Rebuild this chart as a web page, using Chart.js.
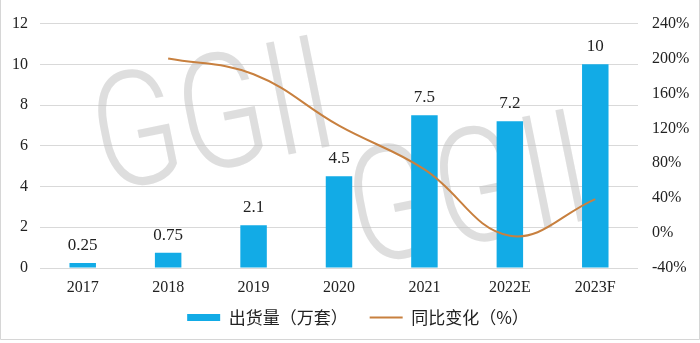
<!DOCTYPE html>
<html>
<head>
<meta charset="utf-8">
<script src="https://cdn.jsdelivr.net/npm/chart.js@4"></script>
<style>
  html, body { margin: 0; padding: 0; background: #fff; }
  #wrap { width: 700px; height: 343px; position: relative; }
</style>
</head>
<body>
<div id="wrap"><canvas id="shipChart" width="700" height="343"></canvas></div>
<script>
// Shipment data (10k sets) and year-on-year change (%)
const years = ['2017', '2018', '2019', '2020', '2021', '2022E', '2023F'];
const shipments = [0.25, 0.75, 2.1, 4.5, 7.5, 7.2, 10];
const yoyChange = [null, 200, 182, 123, 73, -3, 39];
const leftTicks = [0, 2, 4, 6, 8, 10, 12];
const rightTicks = [-40, 0, 40, 80, 120, 160, 200, 240];

const barColor = '#12abe6';
const lineColor = '#c8803f';
const serif = '"Liberation Serif", "DejaVu Serif", serif';
const cjk = '"Noto Sans CJK SC", "Noto Sans", sans-serif';

// faint GGII watermark behind the bars
const watermark = {
  id: 'watermark',
  beforeDatasetsDraw(chart) {
    const ctx = chart.ctx;
    const spots = [[104, 192], [360, 266]];
    ctx.save();
    ctx.fillStyle = 'rgba(195,195,195,0.55)';
    ctx.font = '300 160px Roboto';
    ctx.textBaseline = 'alphabetic';
    spots.forEach(([x, y]) => {
      ctx.save();
      ctx.translate(x, y);
      ctx.rotate(-0.2);
      ctx.scale(0.8, 1);
      ctx.fillText('GGII', 0, 0);
      ctx.restore();
    });
    ctx.restore();
  }
};

// value labels above each bar
const barLabels = {
  id: 'barLabels',
  afterDatasetsDraw(chart) {
    const ctx = chart.ctx;
    const meta = chart.getDatasetMeta(0);
    ctx.save();
    ctx.font = '17px ' + serif;
    ctx.fillStyle = '#222';
    ctx.textAlign = 'center';
    ctx.textBaseline = 'bottom';
    meta.data.forEach((bar, i) => {
      ctx.fillText(String(shipments[i]), bar.x, bar.y - 9);
    });
    ctx.restore();
  }
};

// nudge the legend: centred with a trailing gap, and sits a bit high
const legendShift = {
  id: 'legendShift',
  afterLayout(chart) {
    const lg = chart.legend;
    lg.left += 8;
    lg.right += 8;
    lg.top -= 5;
    lg.bottom -= 5;
  }
};

// thin frame on the outer edge
const frame = {
  id: 'frame',
  afterDraw(chart) {
    const ctx = chart.ctx;
    ctx.save();
    ctx.strokeStyle = '#d6d6d6';
    ctx.lineWidth = 1;
    ctx.beginPath();
    ctx.moveTo(0.5, 0);
    ctx.lineTo(0.5, 339.5);
    ctx.lineTo(699.5, 339.5);
    ctx.lineTo(699.5, 0);
    ctx.stroke();
    ctx.restore();
  }
};

new Chart(document.getElementById('shipChart'), {
  type: 'bar',
  data: {
    labels: years,
    datasets: [
      {
        type: 'bar',
        label: '出货量（万套）',
        data: shipments,
        backgroundColor: barColor,
        borderWidth: 0,
        barPercentage: 0.31,
        categoryPercentage: 1,
        yAxisID: 'y',
        order: 1
      },
      {
        type: 'line',
        label: '同比变化（%）',
        data: yoyChange,
        borderColor: lineColor,
        backgroundColor: lineColor,
        borderWidth: 2,
        pointRadius: 0,
        tension: 0.4,
        fill: false,
        yAxisID: 'y1',
        order: 0
      }
    ]
  },
  options: {
    responsive: false,
    animation: false,
    layout: { padding: { top: 16, bottom: 2, left: 0, right: 0 } },
    plugins: {
      tooltip: { enabled: false },
      legend: {
        position: 'bottom',
        maxHeight: 49,
        labels: {
          usePointStyle: true,
          pointStyleWidth: 33,
          boxHeight: 7,
          padding: 22,
          color: '#222',
          font: { family: cjk, size: 17 },
          generateLabels(chart) {
            return chart.data.datasets.map((ds, i) => ({
              text: ds.label,
              datasetIndex: i,
              fillStyle: ds.type === 'bar' ? barColor : lineColor,
              strokeStyle: ds.type === 'bar' ? barColor : lineColor,
              lineWidth: ds.type === 'bar' ? 0 : 2,
              pointStyle: ds.type === 'bar' ? 'rect' : 'line',
              fontColor: '#222',
              hidden: false
            }));
          }
        }
      }
    },
    scales: {
      x: {
        grid: { display: false, drawTicks: false },
        border: { display: false },
        ticks: { color: '#222', padding: 10, font: { family: serif, size: 16 } },
        afterFit(scale) { scale.height = 24; }
      },
      y: {
        position: 'left',
        min: 0,
        max: 12,
        afterBuildTicks(scale) { scale.ticks = leftTicks.map(v => ({ value: v })); },
        grid: { color: '#d9d9d9', drawTicks: false },
        border: { display: false },
        ticks: { color: '#222', padding: 12, font: { family: serif, size: 16 } },
        afterFit(scale) { scale.width = 40; }
      },
      y1: {
        position: 'right',
        min: -40,
        max: 240,
        afterBuildTicks(scale) { scale.ticks = rightTicks.map(v => ({ value: v })); },
        grid: { display: false, drawTicks: false },
        border: { display: false },
        ticks: {
          color: '#222',
          padding: 14,
          font: { family: serif, size: 16 },
          callback: v => v + '%'
        },
        afterFit(scale) { scale.width = 62; }
      }
    }
  },
  plugins: [watermark, barLabels, legendShift, frame]
});
</script>
</body>
</html>
